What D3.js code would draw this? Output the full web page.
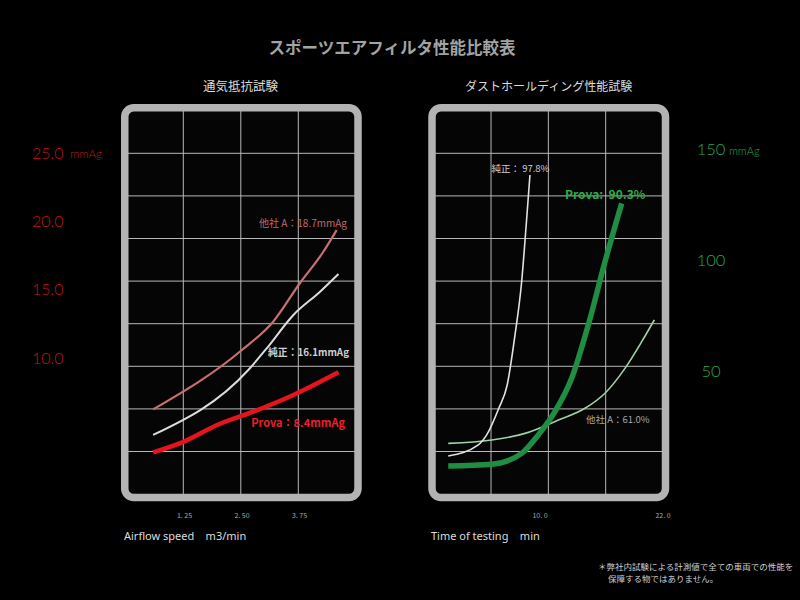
<!DOCTYPE html>
<html><head><meta charset="utf-8">
<script src="https://cdn.jsdelivr.net/npm/d3@7"></script>
<style>
html,body{margin:0;padding:0;background:#000;}
svg{display:block;}
</style></head>
<body>
<script>
// ---- Data ----
const chartTitle = "スポーツエアフィルタ性能比較表";
const leftTitle = "通気抵抗試験";
const rightTitle = "ダストホールディング性能試験";

// Left: airflow resistance (x: m3/min, y: mmAg)
const leftXTicks = [1.25, 2.50, 3.75];
const leftXTickLabels = ["1. 25", "2. 50", "3. 75"];
const leftYTicks = [25, 20, 15, 10];
const leftYTickLabels = ["25.0", "20.0", "15.0", "10.0"];
const leftOtherX = [0.60, 2.53, 3.21, 3.79, 4.30, 4.59];
const leftOtherY = [6.26, 10.60, 12.67, 15.48, 17.78, 19.37];
const leftGenuineX = [0.60, 2.67, 3.07, 3.65, 4.23, 4.63];
const leftGenuineY = [4.39, 9.14, 10.72, 13.16, 14.86, 16.15];
const leftProvaX = [0.60, 1.26, 1.98, 2.78, 3.65, 4.63];
const leftProvaY = [3.11, 3.88, 5.10, 6.09, 7.31, 8.97];

// Right: dust holding (x: min, y: mmAg)
const rightXTicks = [10, 22];
const rightXTickLabels = ["10. 0", "22. 0"];
const rightYTicks = [150, 100, 50];
const rightYTickLabels = ["150", "100", "50"];
const rightGenuineX = [1.05, 3.98, 4.80, 5.98, 6.80, 7.56, 8.21, 8.63, 9.02];
const rightGenuineY = [11.7, 16.7, 21.2, 33.2, 43.7, 66.2, 90.2, 114.3, 138.3];
const rightProvaX = [1.05, 5.29, 8.21, 9.83, 11.46, 13.09, 14.71, 16.34, 17.97];
const rightProvaY = [7.2, 8.0, 12.9, 21.2, 31.7, 46.7, 70.7, 99.2, 125.5];
const rightOtherX = [1.05, 5.29, 8.54, 11.79, 14.39, 16.34, 18.29, 19.92, 21.15];
const rightOtherY = [17.4, 18.9, 21.9, 27.9, 33.2, 40.0, 51.2, 63.2, 73.0];

const gridCols = 4, gridRows = 9;

// ---- Drawing ----
const W = 800, H = 600;
const svg = d3.select("body").append("svg").attr("width", W).attr("height", H)
  .style("font-family", "'Noto Sans CJK JP','Noto Sans',sans-serif");
svg.append("rect").attr("width", W).attr("height", H).attr("fill", "#000");

svg.append("text").attr("x", 392).attr("y", 54).attr("text-anchor", "middle")
  .attr("font-size", 16.5).attr("font-weight", 700).attr("fill", "#a3a3a3").text(chartTitle);

function panel(cfg) {
  const g = svg.append("g");
  const fx0 = cfg.frame[0], fx1 = cfg.frame[1], fy0 = 107.75, fy1 = 497.5;
  const gx = d3.scaleLinear().domain([0, gridCols]).range([cfg.gridX0, cfg.gridX1]);
  const gy = d3.scaleLinear().domain([0, gridRows]).range([494.1, 110.7]);
  g.append("rect").attr("x", fx0).attr("y", fy0).attr("width", fx1 - fx0).attr("height", fy1 - fy0)
    .attr("fill", "#050505");
  g.selectAll("line.v").data(d3.range(1, gridCols)).join("line")
    .attr("x1", d => gx(d)).attr("x2", d => gx(d)).attr("y1", fy0).attr("y2", fy1)
    .attr("stroke", "#b8b8b8").attr("stroke-width", 1);
  g.selectAll("line.h").data(d3.range(1, gridRows)).join("line")
    .attr("y1", d => gy(d)).attr("y2", d => gy(d)).attr("x1", fx0).attr("x2", fx1)
    .attr("stroke", "#b8b8b8").attr("stroke-width", 1);
  return g;
}

function drawFrame(g, fx0, fx1) {
  g.append("rect").attr("x", fx0).attr("y", 107.75).attr("width", fx1 - fx0).attr("height", 497.5 - 107.75)
    .attr("rx", 9).attr("ry", 9).attr("fill", "none").attr("stroke", "#b3b3b3").attr("stroke-width", 7.5);
}

function drawLine(g, xs, ys, x, y, color, width, curve) {
  const pts = xs.map((d, i) => [d, ys[i]]);
  g.append("path").datum(pts)
    .attr("d", d3.line().x(d => x(d[0])).y(d => y(d[1])).curve(curve))
    .attr("fill", "none").attr("stroke", color).attr("stroke-width", width)
    .attr("stroke-linejoin", "round").attr("stroke-linecap", "butt");
}

// Left panel
const lx = d3.scaleLinear().domain([0, 5]).range([125.5, 355.5]);
const ly = d3.scaleLinear().domain([0, 25]).range([495, 153]);
const lg = panel({frame: [124.75, 358], gridX0: 125.8, gridX1: 355.8});
drawLine(lg, leftOtherX, leftOtherY, lx, ly, "#c86f72", 2.2, d3.curveMonotoneX);
drawLine(lg, leftGenuineX, leftGenuineY, lx, ly, "#dcdcdc", 2, d3.curveMonotoneX);
drawLine(lg, leftProvaX, leftProvaY, lx, ly, "#e3141c", 4.5, d3.curveMonotoneX);
drawFrame(lg, 124.75, 358);
lg.append("text").attr("x", 347).attr("y", 226.5).attr("text-anchor", "end")
  .attr("font-size", 10).attr("fill", "#c0686c").text("他社 A：18.7mmAg");
lg.append("text").attr("x", 349).attr("y", 356).attr("text-anchor", "end")
  .attr("font-size", 9.8).attr("font-weight", 700).attr("fill", "#d0d0d0").text("純正：16.1mmAg");
lg.append("text").attr("x", 345).attr("y", 426.5).attr("text-anchor", "end")
  .attr("font-size", 11).attr("font-weight", 700).attr("fill", "#e8202a").text("Prova：8.4mmAg");

// left y labels
svg.selectAll("text.ly").data(leftYTicks).join("text")
  .attr("x", 32).attr("y", d => ly(d) + 5.5)
  .attr("font-family", "Lato,'DejaVu Sans',sans-serif").attr("font-weight", 300)
  .attr("font-size", 16).attr("fill", "#c0161e")
  .text((d, i) => leftYTickLabels[i]);
svg.append("text").attr("x", 70).attr("y", ly(25) + 5)
  .attr("font-family", "Lato,'DejaVu Sans',sans-serif").attr("font-weight", 300)
  .attr("font-size", 11.5).attr("fill", "#c0161e").text("mmAg");
// left x tick labels
svg.selectAll("text.lx").data(leftXTicks).join("text")
  .attr("x", d => lx(d) + 1.5).attr("y", 518).attr("text-anchor", "middle")
  .attr("font-size", 7).attr("fill", "#a8a8a8")
  .text((d, i) => leftXTickLabels[i]);
svg.append("text").attr("x", 124).attr("y", 540).attr("font-size", 11).attr("fill", "#dcdcdc")
  .attr("font-family", "'Noto Sans','Open Sans',sans-serif")
  .attr("xml:space", "preserve").text("Airflow speed    m3/min");
svg.append("text").attr("x", 203).attr("y", 91).attr("font-size", 12.5).attr("fill", "#dcdcdc").text(leftTitle);

// Right panel
const rx = d3.scaleLinear().domain([0, 22]).range([437.5, 663]);
const ry = d3.scaleLinear().domain([0, 150]).range([482, 149]);
const rg = panel({frame: [432, 665.5], gridX0: 433.7, gridX1: 663});
drawLine(rg, rightOtherX, rightOtherY, rx, ry, "#9fd2a8", 1.6, d3.curveMonotoneX);
drawLine(rg, rightGenuineX, rightGenuineY, rx, ry, "#e2e2e2", 1.6, d3.curveMonotoneX);
drawLine(rg, rightProvaX, rightProvaY, rx, ry, "#1f8e43", 5.5, d3.curveMonotoneX);
drawFrame(rg, 432, 665.5);
rg.append("text").attr("x", 491.5).attr("y", 172).attr("font-size", 9.5)
  .attr("fill", "#cfcfcf").attr("xml:space", "preserve").text("純正： 97.8%");
rg.append("text").attr("x", 565).attr("y", 198.5).attr("font-size", 12).attr("font-weight", 700)
  .attr("fill", "#2aae4a").attr("xml:space", "preserve").text("Prova:  90.3%");
rg.append("text").attr("x", 586).attr("y", 422.5).attr("font-size", 9.5)
  .attr("fill", "#a6a6a6").text("他社 A：61.0%");

svg.selectAll("text.ry").data(rightYTicks).join("text")
  .attr("x", 711).attr("y", d => ry(d) + 6).attr("text-anchor", "middle")
  .attr("font-family", "Lato,'DejaVu Sans',sans-serif").attr("font-weight", 300)
  .attr("font-size", 16.5).attr("fill", "#2aa84a")
  .text((d, i) => rightYTickLabels[i]);
svg.append("text").attr("x", 729).attr("y", ry(150) + 5.5)
  .attr("font-family", "Lato,'DejaVu Sans',sans-serif").attr("font-weight", 300)
  .attr("font-size", 11).attr("fill", "#2aa84a").text("mmAg");
svg.selectAll("text.rx").data(rightXTicks).join("text")
  .attr("x", d => rx(d)).attr("y", 518).attr("text-anchor", "middle")
  .attr("font-size", 7).attr("fill", "#a8a8a8")
  .text((d, i) => rightXTickLabels[i]);
svg.append("text").attr("x", 431).attr("y", 540).attr("font-size", 11).attr("fill", "#dcdcdc")
  .attr("font-family", "'Noto Sans','Open Sans',sans-serif")
  .attr("xml:space", "preserve").text("Time of testing    min");
svg.append("text").attr("x", 465).attr("y", 91).attr("font-size", 12).attr("fill", "#dcdcdc").text(rightTitle);

// footnote
svg.append("text").attr("x", 598).attr("y", 570).attr("font-size", 8.5).attr("fill", "#cfcfcf")
  .text("＊弊社内試験による計測値で全ての車両での性能を");
svg.append("text").attr("x", 608).attr("y", 582).attr("font-size", 8.5).attr("fill", "#cfcfcf")
  .text("保障する物ではありません。");
</script>
</body></html>
